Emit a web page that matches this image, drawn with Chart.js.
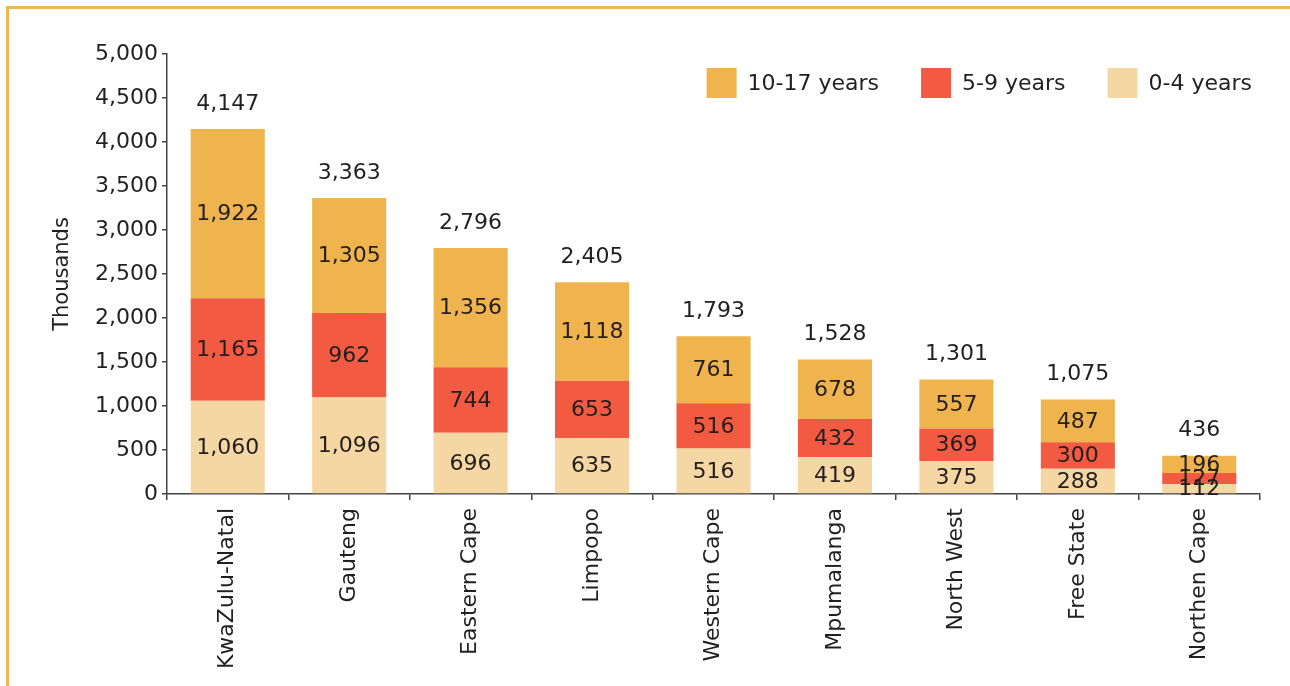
<!DOCTYPE html>
<html>
<head>
<meta charset="utf-8">
<script src="https://cdn.jsdelivr.net/npm/chart.js@4"></script>
<style>
  body { margin: 0; background: #fff; }
  #wrap { position: relative; width: 1290px; height: 686px; }
  #frame {
    position: absolute; left: 6px; top: 6px; right: -10px; bottom: -10px;
    border-top: 3px solid #f2b552; border-left: 3px solid #f2b552;
    pointer-events: none;
  }
</style>
</head>
<body>
<div id="wrap">
  <canvas id="provChart" width="1290" height="686"></canvas>
  <div id="frame"></div>
</div>
<script>
// Children by age group per province (thousands)
const provinces = ['KwaZulu-Natal', 'Gauteng', 'Eastern Cape', 'Limpopo', 'Western Cape',
                   'Mpumalanga', 'North West', 'Free State', 'Northen Cape'];
const age0to4 = [1060, 1096, 696, 635, 516, 419, 375, 288, 112];
const age5to9 = [1165, 962, 744, 653, 516, 432, 369, 300, 127];
const age10to17 = [1922, 1305, 1356, 1118, 761, 678, 557, 487, 196];
const totals = [4147, 3363, 2796, 2405, 1793, 1528, 1301, 1075, 436];
const yTicks = [0, 500, 1000, 1500, 2000, 2500, 3000, 3500, 4000, 4500, 5000];

const textColor = '#231f20';
const fontFamily = '"DejaVu Sans", sans-serif';
const fmt = v => v.toLocaleString('en-US');

// Values inside each segment plus the totals above the stacks
const segLabels = {
    id: 'segLabels',
    afterDatasetsDraw(chart) {
        const ctx = chart.ctx;
        ctx.save();
        ctx.fillStyle = textColor;
        ctx.font = '22px ' + fontFamily;
        ctx.textAlign = 'center';
        ctx.textBaseline = 'middle';
        chart.data.datasets.forEach((ds, i) => {
            chart.getDatasetMeta(i).data.forEach((bar, j) => {
                const p = bar.getProps(['x', 'y', 'base'], true);
                ctx.fillText(fmt(ds.data[j]), p.x, (p.y + p.base) / 2 + 1);
            });
        });
        const top = chart.getDatasetMeta(chart.data.datasets.length - 1);
        top.data.forEach((bar, j) => {
            const p = bar.getProps(['x', 'y'], true);
            ctx.fillText(fmt(totals[j]), p.x, p.y - 25);
        });
        ctx.restore();
    }
};

// Legend drawn inside the plot, top right
const cornerLegend = {
    id: 'cornerLegend',
    afterDraw(chart) {
        const ctx = chart.ctx;
        ctx.save();
        ctx.font = '22px ' + fontFamily;
        ctx.textBaseline = 'middle';
        const items = chart.data.datasets.slice().reverse();
        const box = 30, gap = 11, spacing = 42;
        const widths = items.map(d => ctx.measureText(d.label).width);
        let total = 0;
        widths.forEach((w, i) => { total += box + gap + w + (i < widths.length - 1 ? spacing : 0); });
        let x = 1252 - total;
        const yc = 83;
        items.forEach((d, i) => {
            ctx.fillStyle = d.backgroundColor;
            ctx.fillRect(x, yc - box / 2, box, box);
            ctx.fillStyle = textColor;
            ctx.fillText(d.label, x + box + gap, yc + 1);
            x += box + gap + widths[i] + spacing;
        });
        ctx.restore();
    }
};

const ctx = document.getElementById('provChart').getContext('2d');
const provChart = new Chart(ctx, {
    type: 'bar',
    data: {
        labels: provinces,
        datasets: [
            { label: '0-4 years', data: age0to4, backgroundColor: '#f5d7a3' },
            { label: '5-9 years', data: age5to9, backgroundColor: '#f25b42' },
            { label: '10-17 years', data: age10to17, backgroundColor: '#f0b44e' }
        ]
    },
    options: {
        responsive: false,
        animation: false,
        events: [],
        layout: { padding: { left: 50, top: 54, right: 30, bottom: 0 } },
        datasets: { bar: { categoryPercentage: 1, barPercentage: 0.61 } },
        plugins: {
            legend: { display: false },
            tooltip: { enabled: false }
        },
        scales: {
            x: {
                stacked: true,
                afterFit: s => { s.height = 192; },
                border: { color: '#444', width: 1.5 },
                grid: { drawOnChartArea: false, tickLength: 6, color: '#444', lineWidth: 1.5, offset: true },
                ticks: {
                    color: textColor, font: { size: 22, family: fontFamily },
                    minRotation: 90, maxRotation: 90, padding: 8
                }
            },
            y: {
                stacked: true,
                min: 0,
                max: 5000,
                afterFit: s => { s.width = 117; },
                afterBuildTicks: s => { s.ticks = yTicks.map(v => ({ value: v })); },
                border: { color: '#444', width: 1.5 },
                grid: { drawOnChartArea: false, tickLength: 5, color: '#444', lineWidth: 1.5 },
                ticks: {
                    color: textColor, font: { size: 22, family: fontFamily }, padding: 4,
                    callback: v => fmt(v)
                },
                title: {
                    display: true, text: 'Thousands', color: textColor,
                    font: { size: 21, family: fontFamily }, padding: 0
                }
            }
        }
    },
    plugins: [segLabels, cornerLegend]
});
</script>
</body>
</html>
